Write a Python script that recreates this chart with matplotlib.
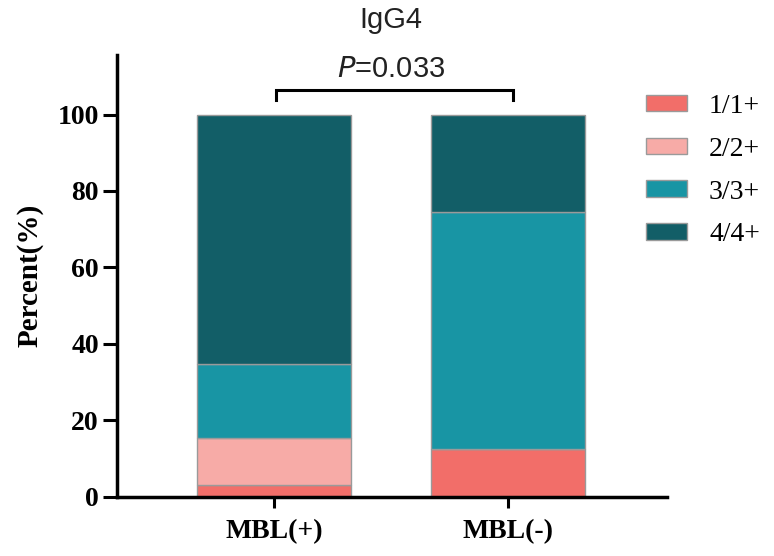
import matplotlib
matplotlib.use("Agg")
import matplotlib.pyplot as plt
import numpy as np

groups = ["MBL(+)", "MBL(-)"]
grades = ["1/1+", "2/2+", "3/3+", "4/4+"]
vals_1 = [2.9, 12.4]     # 1/1+
vals_2 = [12.3, 0.0]     # 2/2+
vals_3 = [19.6, 62.1]    # 3/3+
vals_4 = [65.2, 25.5]    # 4/4+
yticks = [0, 20, 40, 60, 80, 100]
title = "IgG4"
pval = "0.033"

series = [vals_1, vals_2, vals_3, vals_4]
colors = ["#F26E69", "#F7ABA7", "#1895A4", "#125E67"]

fig = plt.figure(figsize=(7.74, 5.56), dpi=100)
ax = fig.add_axes([0.1512, 0.107, 0.7106, 0.794])

x = np.arange(len(groups))
bottom = np.zeros(len(groups))
handles = []
for vals, c, lab in zip(series, colors, grades):
    v = np.array(vals)
    b = ax.bar(x, v, width=0.66, bottom=bottom, color=c, edgecolor="#9a9a9a",
               linewidth=1.0, label=lab)
    handles.append(b)
    bottom += v

ax.set_xlim(-0.671, 1.68)
ax.set_ylim(0, 115.6)
ax.set_yticks(yticks)
ax.set_xticks(x)
ax.set_xticklabels(groups, fontfamily="Liberation Serif", fontweight="bold", fontsize=20)
ax.set_yticklabels([str(t) for t in yticks], fontfamily="Liberation Serif",
                   fontweight="bold", fontsize=20)
ax.set_ylabel("Percent(%)", fontfamily="Liberation Serif", fontweight="bold",
              fontsize=21, labelpad=10)

for s in ["top", "right"]:
    ax.spines[s].set_visible(False)
for s in ["left", "bottom"]:
    ax.spines[s].set_linewidth(2.5)
ax.tick_params(axis="y", length=10, width=2.2, pad=3)
ax.tick_params(axis="x", length=8, width=2.2, pad=8)

# significance bracket
ax.plot([0.01, 0.01, 1.02, 1.02], [103.8, 106.4, 106.4, 103.8], color="black",
        lw=2.2, clip_on=False, solid_joinstyle="miter")
ax.text(0.5, 108.2, r"$\it{P}$" + "=" + pval, ha="center", va="bottom",
        fontsize=21, fontfamily="Liberation Sans", color="#222222")
fig.text(391 / 774, 1 - 20 / 556, title, ha="center", va="center",
         fontsize=21, fontfamily="Liberation Sans", color="#222222")

leg = fig.legend(handles=handles, labels=grades, loc="upper left",
                 bbox_to_anchor=(646 / 774, 1 - 94 / 556), frameon=False,
                 borderpad=0, borderaxespad=0,
                 prop={"family": "Liberation Serif", "size": 20},
                 handlelength=1.47, handleheight=0.54, labelspacing=0.64,
                 handletextpad=0.8)

fig.savefig("out.png", dpi=100)
